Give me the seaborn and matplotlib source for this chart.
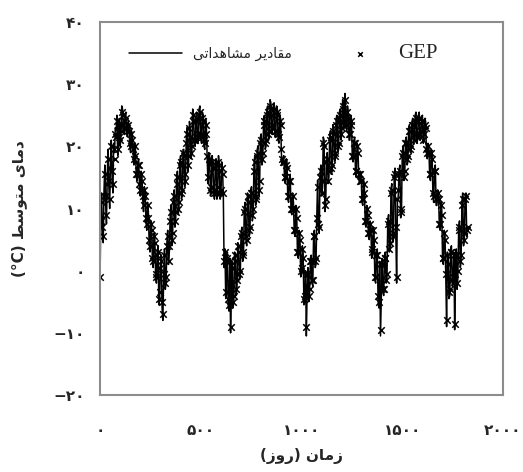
"""
دمای متوسط روزانه: مقادیر مشاهداتی و GEP
"""
from matplotlib import pyplot as plt
import pandas as pd
import numpy as np
import seaborn as sns

# روز نمونه‌برداری (هر ۴ روز)
days = list(range(0, 1825, 4))

obs_temp = [
    -2.0, 9.0, 12.5, 6.0, 4.5, 13.0, 17.0, 11.0, 7.5, 15.0, 19.5, 13.5, 10.0, 17.5, 21.0, 15.0, 12.5, 20.5, 19.0, 23.0,
    22.5, 25.0, 18.5, 21.0, 24.5, 20.0, 21.5, 26.5, 26.0, 23.0, 22.0, 25.0, 25.5, 22.5, 21.5, 24.0, 23.5, 20.0, 19.0, 22.5,
    22.0, 19.0, 17.0, 20.5, 19.5, 15.0, 14.5, 17.5, 18.0, 13.5, 12.0, 16.0, 15.5, 11.5, 9.5, 13.5, 13.0, 8.0, 6.5, 11.0,
    9.5, 4.5, 3.0, 8.0, 7.5, 1.5, 0.5, 6.0, 5.5, -1.0, -2.0, 3.0, 4.0, -5.5, -4.5, 1.0, 2.5, -6.0, -8.0, -1.0,
    3.5, -3.0, -2.0, 4.5, 6.5, 1.0, 3.0, 8.5, 10.5, 4.0, 5.0, 11.5, 13.0, 7.0, 8.5, 14.5, 16.0, 9.0, 10.0, 17.5,
    18.5, 11.5, 12.0, 19.5, 19.5, 13.5, 14.5, 21.0, 23.0, 16.0, 17.5, 24.0, 22.5, 18.0, 19.0, 26.0, 25.0, 20.5, 20.0, 24.5,
    25.5, 20.5, 21.0, 26.0, 26.5, 21.5, 20.5, 25.5, 25.0, 20.0, 19.5, 24.5, 23.0, 18.0, 14.0, 19.0, 18.5, 12.0, 12.5, 18.5,
    17.5, 12.5, 11.5, 17.0, 18.0, 11.5, 12.5, 18.5, 17.0, 11.5, 12.0, 17.5, 16.5, 12.0, 0.5, 3.5, -4.5, 1.0, 3.0, -5.5,
    -6.5, 2.0, -10.0, -3.0, 1.5, -6.0, -5.0, 3.0, 2.5, -4.0, -2.5, 4.5, 4.0, -1.5, -1.0, 6.0, 7.0, 1.5, 2.0, 10.0,
    11.0, 5.0, 4.0, 12.5, 12.0, 5.5, 6.0, 13.0, 13.5, 8.0, 9.0, 17.0, 18.5, 10.5, 11.0, 19.5, 20.0, 12.0, 13.5, 21.5,
    22.0, 17.0, 18.0, 24.5, 25.0, 19.5, 20.0, 26.0, 26.5, 21.0, 21.5, 27.5, 27.0, 22.0, 22.5, 26.0, 27.0, 21.5, 21.5, 26.5,
    26.0, 21.0, 20.5, 25.0, 24.5, 19.0, 17.0, 18.0, 18.5, 14.5, 14.0, 18.0, 17.5, 11.5, 11.0, 15.0, 15.5, 9.5, 9.0, 12.5,
    11.0, 6.0, 5.5, 10.5, 9.5, 2.5, 2.0, 6.5, 6.0, -1.0, -0.5, 4.0, 3.0, -5.5, -5.0, 0.0, -10.5, -3.0, 0.5, -5.0,
    -4.0, 2.0, 2.5, -2.0, -2.5, 6.0, 6.5, 0.5, 1.0, 9.0, 14.5, 7.0, 6.0, 15.5, 17.0, 12.0, 13.5, 21.5, 21.0, 9.5,
    10.5, 18.0, 19.0, 14.0, 15.0, 22.0, 22.5, 15.5, 16.0, 23.5, 23.0, 17.5, 18.0, 24.5, 25.0, 19.0, 19.5, 25.5, 26.0, 21.0,
    22.0, 27.5, 27.0, 23.0, 28.5, 24.0, 22.5, 26.5, 25.5, 21.0, 21.0, 25.0, 24.5, 18.0, 17.5, 21.0, 21.5, 15.5, 15.0, 20.5,
    20.0, 15.0, 14.0, 16.0, 15.5, 11.0, 10.5, 14.5, 13.5, 7.5, 7.0, 10.5, 10.0, 5.5, 5.0, 8.0, 7.5, 2.0, 2.5, 7.0,
    6.0, -1.5, -2.0, 3.0, 3.5, -5.0, -6.0, 1.5, -10.5, -4.0, 2.0, -3.5, -4.0, 2.5, 3.0, -2.0, -1.5, 8.0, 9.0, 3.0,
    3.5, 13.0, 14.0, 4.5, 5.0, 15.5, 16.5, 6.0, -2.0, 11.0, 12.0, 16.0, 17.0, 8.5, 9.0, 19.0, 20.0, 14.5, 15.0, 21.0,
    21.5, 17.0, 17.5, 23.0, 23.5, 19.0, 19.0, 24.0, 24.5, 20.5, 21.0, 25.0, 25.5, 20.5, 21.0, 25.0, 25.5, 21.0, 21.5, 24.5,
    25.0, 20.5, 21.0, 24.5, 24.0, 19.0, 18.0, 20.5, 20.0, 15.0, 14.5, 19.5, 19.0, 12.0, 11.0, 16.5, 17.0, 10.5, 10.5, 13.0,
    12.5, 7.0, 6.5, 11.0, 10.0, 1.5, 1.0, 6.5, 6.0, -1.0, -9.0, 3.0, 2.0, -4.5, -4.0, 3.5, 4.0, -2.5, -2.0, 3.0,
    -9.5, -1.0, 3.5, -3.0, -1.0, 7.0, 8.0, 0.5, 1.5, 11.0, 12.5, 4.0, 5.0, 12.0, 12.5, 5.5, 6.0,
]

gep_temp = [
    -1.0, 8.0, 11.0, 7.0, 5.5, 12.0, 15.5, 12.0, 9.0, 14.0, 18.0, 14.5, 11.5, 16.5, 20.0, 16.0, 14.0, 19.5, 18.0, 22.0,
    21.5, 24.0, 19.5, 21.5, 23.5, 21.0, 22.5, 25.5, 25.0, 23.5, 23.0, 24.0, 24.5, 23.0, 22.5, 23.5, 22.5, 20.5, 20.0, 22.0,
    21.0, 19.5, 18.0, 20.0, 18.5, 15.5, 15.5, 17.0, 17.0, 14.0, 13.0, 15.5, 14.5, 12.0, 10.5, 13.0, 12.0, 8.5, 7.5, 10.5,
    8.5, 5.0, 4.0, 7.5, 6.5, 2.0, 1.5, 5.5, 4.5, -0.5, -1.0, 2.5, 3.0, -4.5, -3.5, 0.5, 1.5, -5.0, -7.0, -0.5,
    2.5, -2.0, -1.0, 4.0, 5.5, 1.5, 4.0, 8.0, 9.5, 5.0, 6.0, 11.0, 12.0, 8.0, 9.5, 14.0, 15.0, 10.0, 11.0, 17.0,
    17.5, 12.5, 13.0, 19.0, 18.5, 14.5, 15.5, 20.5, 22.0, 17.0, 18.5, 23.0, 21.5, 19.0, 20.0, 25.0, 24.0, 21.0, 21.0, 24.0,
    24.5, 21.5, 22.0, 25.0, 25.5, 22.0, 21.5, 24.5, 24.0, 21.0, 20.5, 23.5, 22.0, 18.5, 15.0, 18.0, 17.5, 13.0, 13.5, 17.5,
    16.5, 13.0, 12.5, 16.5, 17.0, 12.5, 13.5, 17.5, 16.0, 12.5, 13.0, 16.5, 15.5, 12.5, 1.5, 3.0, -3.5, 1.5, 2.0, -4.5,
    -5.5, 1.5, -9.0, -2.0, 0.5, -5.0, -4.0, 2.5, 1.5, -3.0, -1.5, 4.0, 3.0, -0.5, 0.0, 5.5, 6.0, 2.5, 3.0, 9.5,
    10.0, 5.5, 5.0, 12.0, 11.0, 6.5, 7.0, 12.5, 12.5, 9.0, 10.0, 16.0, 17.5, 11.5, 12.0, 18.5, 19.0, 13.0, 14.5, 20.5,
    21.0, 18.0, 19.0, 23.5, 24.0, 20.5, 21.0, 25.0, 25.5, 22.0, 22.5, 26.5, 26.0, 23.0, 23.5, 25.0, 26.0, 22.5, 22.5, 25.5,
    25.0, 22.0, 21.5, 24.0, 23.5, 19.5, 18.0, 17.5, 17.5, 15.0, 15.0, 17.0, 16.5, 12.0, 12.0, 14.5, 14.5, 10.0, 10.0, 12.0,
    10.0, 6.5, 6.5, 10.0, 8.5, 3.0, 3.0, 6.0, 5.0, 0.0, 0.5, 3.5, 2.0, -4.5, -4.0, -0.5, -9.0, -2.5, -0.5, -4.0,
    -3.0, 1.5, 1.5, -1.5, -1.5, 5.5, 5.5, 1.5, 2.0, 8.5, 13.5, 7.5, 7.0, 15.0, 16.0, 12.5, 14.5, 20.5, 20.0, 10.5,
    11.5, 17.5, 18.0, 14.5, 16.0, 21.0, 21.5, 16.5, 17.0, 22.5, 22.0, 18.5, 19.0, 23.5, 24.0, 20.0, 20.5, 24.5, 25.0, 22.0,
    23.0, 26.5, 26.0, 23.5, 27.5, 24.5, 23.5, 25.5, 24.5, 22.0, 22.0, 24.0, 23.5, 18.5, 18.5, 20.5, 20.5, 16.0, 16.0, 20.0,
    19.0, 15.5, 14.5, 15.5, 14.5, 11.5, 11.5, 14.0, 12.5, 8.0, 8.0, 10.0, 9.0, 6.0, 6.0, 7.5, 6.5, 3.0, 3.5, 6.5,
    5.0, -1.0, -1.0, 2.5, 2.5, -4.0, -5.0, 1.0, -9.5, -3.0, 1.0, -3.0, -3.0, 2.0, 2.0, -1.5, -0.5, 7.5, 8.0, 3.5,
    4.5, 12.5, 13.0, 5.5, 6.0, 15.0, 15.5, 7.0, -1.0, 11.5, 13.0, 15.5, 16.0, 9.5, 10.0, 18.5, 19.0, 15.0, 16.0, 20.5,
    20.5, 18.0, 18.5, 22.5, 22.5, 19.5, 20.0, 23.5, 23.5, 21.0, 22.0, 24.0, 24.5, 21.5, 22.0, 24.0, 24.5, 22.0, 22.5, 24.0,
    24.0, 21.0, 22.0, 23.5, 23.0, 19.5, 19.0, 20.0, 19.0, 15.5, 15.5, 19.0, 18.0, 12.5, 12.0, 16.0, 16.0, 11.5, 11.5, 12.5,
    11.5, 7.5, 7.5, 10.5, 9.0, 2.0, 2.0, 6.0, 5.0, -0.5, -8.0, 2.5, 1.0, -3.5, -3.0, 3.0, 3.0, -1.5, -1.0, 2.5,
    -8.5, -0.5, 2.5, -2.0, 0.0, 6.5, 7.0, 1.5, 2.5, 10.5, 11.5, 5.0, 6.0, 11.5, 12.0, 6.5, 7.0,
]

x_ticks = [0, 500, 1000, 1500, 2000]
x_tick_labels = ['۰', '۵۰۰', '۱۰۰۰', '۱۵۰۰', '۲۰۰۰']
y_ticks = [-20, -10, 0, 10, 20, 30, 40]
y_tick_labels = ['−۲۰', '−۱۰', '۰', '۱۰', '۲۰', '۳۰', '۴۰']

# شکل‌دهی ساده حروف فارسی (matplotlib خودش اتصال و راست‌به‌چپ ندارد)
FORMS = {
    'ا': ('\uFE8D', '\uFE8E'),
    'د': ('\uFEA9', '\uFEAA'),
    'ر': ('\uFEAD', '\uFEAE'),
    'ز': ('\uFEAF', '\uFEB0'),
    'و': ('\uFEED', '\uFEEE'),
    'ت': ('\uFE95', '\uFE96', '\uFE97', '\uFE98'),
    'س': ('\uFEB1', '\uFEB2', '\uFEB3', '\uFEB4'),
    'ش': ('\uFEB5', '\uFEB6', '\uFEB7', '\uFEB8'),
    'ط': ('\uFEC1', '\uFEC2', '\uFEC3', '\uFEC4'),
    'ق': ('\uFED5', '\uFED6', '\uFED7', '\uFED8'),
    'م': ('\uFEE1', '\uFEE2', '\uFEE3', '\uFEE4'),
    'ن': ('\uFEE5', '\uFEE6', '\uFEE7', '\uFEE8'),
    'ه': ('\uFEE9', '\uFEEA', '\uFEEB', '\uFEEC'),
    'ی': ('\uFEEF', '\uFEF0', '\uFEF3', '\uFEF4'),
}


def fa(word):
    out = []
    for i, ch in enumerate(word):
        f = FORMS[ch]
        prev_j = i > 0 and len(FORMS[word[i - 1]]) == 4
        next_j = len(f) == 4 and i < len(word) - 1
        if prev_j and next_j:
            out.append(f[3])
        elif next_j:
            out.append(f[2])
        elif prev_j:
            out.append(f[1])
        else:
            out.append(f[0])
    return ''.join(out[::-1])


obs_label = fa('مشاهداتی') + ' ' + fa('مقادیر')
y_label = '(°C) ' + fa('متوسط') + ' ' + fa('دمای')
x_label = '(' + fa('روز') + ') ' + fa('زمان')

df = pd.DataFrame({'day': days, 'obs': obs_temp, 'gep': gep_temp})

sns.set_style('white')
plt.rcParams['font.family'] = ['DejaVu Sans']

fig = plt.figure(figsize=(5.23, 4.72), dpi=100)
ax = fig.add_axes([0.1912, 0.1631, 0.7706, 0.7903])

sns.lineplot(data=df, x='day', y='obs', color='black', linewidth=1.1,
             estimator=None, ax=ax, label=obs_label)
sns.scatterplot(data=df, x='day', y='gep', color='black', marker='x',
                s=22, linewidth=1.1, ax=ax, label='GEP')

ax.set_xlim(0, 2000)
ax.set_ylim(-20, 40)
ax.set_xticks(x_ticks)
ax.set_xticklabels(x_tick_labels, fontsize=11, fontweight='bold')
ax.set_yticks(y_ticks)
ax.set_yticklabels(y_tick_labels, fontsize=11, fontweight='bold')
ax.tick_params(axis='both', direction='out', length=6, width=1.5,
               color='#8c8c8c')
ax.tick_params(axis='x', pad=14)
ax.tick_params(axis='y', pad=5)
for sp in ax.spines.values():
    sp.set_color('#8c8c8c')
    sp.set_linewidth(1.5)

ax.set_xlabel(x_label, fontsize=11, fontweight='bold', labelpad=7)
ax.set_ylabel(y_label, fontsize=11, fontweight='bold', labelpad=19)

leg = ax.legend(loc='upper center', ncol=2, frameon=False, handlelength=3.8,
                columnspacing=3.0, bbox_to_anchor=(0.455, 0.975), fontsize=10,
                markerscale=0.7)
leg.get_texts()[1].set_family('Liberation Serif')
leg.get_texts()[1].set_fontsize(15)

plt.savefig('out.png', dpi=100)
